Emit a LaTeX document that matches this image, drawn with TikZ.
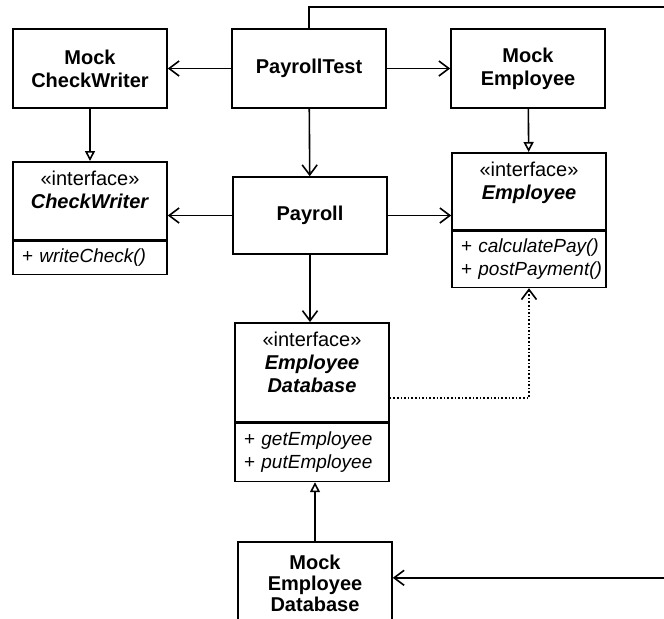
\documentclass[tikz,border=0pt]{standalone}
\usepackage{fontspec}
\setmainfont{Liberation Sans}
\usetikzlibrary{arrows.meta,positioning}
\hyphenpenalty=10000
\hbadness=10000
\hfuzz=5pt

\tikzset{
  cls/.style={draw, line width=0.8pt, minimum width=77pt, minimum height=39.5pt,
    align=center, font=\fontsize{10}{11.5}\selectfont\bfseries},
  clsname/.style={align=center, inner sep=2pt, font=\fontsize{10}{11.5}\selectfont},
  ops/.style={draw, line width=0.8pt, minimum width=77pt, text width=68pt,
    inner xsep=4.5pt, align=left, font=\fontsize{9.5}{11.5}\selectfont\itshape},
  uses/.style={line width=0.8pt, -{Straight Barb[length=5pt,width=7.5pt]}},
  isa/.style={line width=0.8pt, -{Triangle[open,length=5pt,width=5pt]}},
  dep/.style={uses, densely dotted},
}

\begin{document}
\begin{tikzpicture}[x=0.5pt, y=-0.5pt]
  \useasboundingbox (0,0) rectangle (664,618);
  \clip (0,0) rectangle (664,618);

  \node[cls] (ptest) at (309,68.5) {PayrollTest};
  \node[cls] (mockcw) at (90,68.5) {Mock\\CheckWriter};
  \node[cls] (mockemp) at (528,68.5) {Mock\\Employee};
  \node[cls, minimum height=38.5pt] (payroll) at (310,215.5) {Payroll};

  % interfaces
  \node[cls, minimum height=39pt, anchor=north] (cw) at (90,161) {};
  \node[ops, minimum height=16.5pt, anchor=north] (cwops) at (cw.south) {\textup{+}~writeCheck()};
  \node[clsname, below=3pt of cw.north] (cwname) {«interface»\\\textbf{\textit{CheckWriter}}};

  \node[cls, minimum height=38.5pt, anchor=north] (emp) at (529,152) {};
  \node[ops, minimum height=28pt, anchor=north] (empops) at (emp.south)
    {\textup{+}~calculatePay()\\\textup{+}~postPayment()};
  \node[clsname, below=3pt of emp.north] (empname) {«interface»\\\textbf{\textit{Employee}}};

  \node[cls, minimum height=49.5pt, anchor=north] (edb) at (312,322) {};
  \node[ops, minimum height=29pt, anchor=north] (edbops) at (edb.south)
    {\textup{+}~getEmployee\\\textup{+}~putEmployee};
  \node[clsname, below=3pt of edb.north] (edbname)
    {«interface»\\\textbf{\textit{Employee}}\\\textbf{\textit{Database}}};

  % mock database, cut by the page
  \node[cls, minimum height=50pt, anchor=north] (mockdb) at (315,541) {};
  \node[clsname, font=\fontsize{10}{10.5}\selectfont\bfseries, below=5pt of mockdb.north] (mockdbname)
    {Mock\\Employee\\Database};

  \coordinate (wrap) at (700,7);
  \coordinate (mockdbin) at ([yshift=7pt]mockdb.east);
  \coordinate (depout) at ([yshift=-12.75pt]edb.east);

  \draw[uses] (ptest) -- (mockcw);
  \draw[uses] (ptest) -- (mockemp);
  \draw[uses] (ptest) -- (payroll);
  \draw[uses] (payroll.west) -- (payroll.west -| cw.east);
  \draw[uses] (payroll.east) -- (payroll.east -| emp.west);
  \draw[uses] (payroll.south) -- (payroll.south |- edb.north);
  \draw[isa] (mockcw) -- (cw);
  \draw[isa] (mockemp) -- (emp);
  \draw[isa] (mockdb.north) -- (mockdb.north |- edbops.south);
  \draw[dep] (depout) -| (empops.south);
  \draw[uses] (ptest.north) |- (wrap) |- (mockdbin);
\end{tikzpicture}
\end{document}
